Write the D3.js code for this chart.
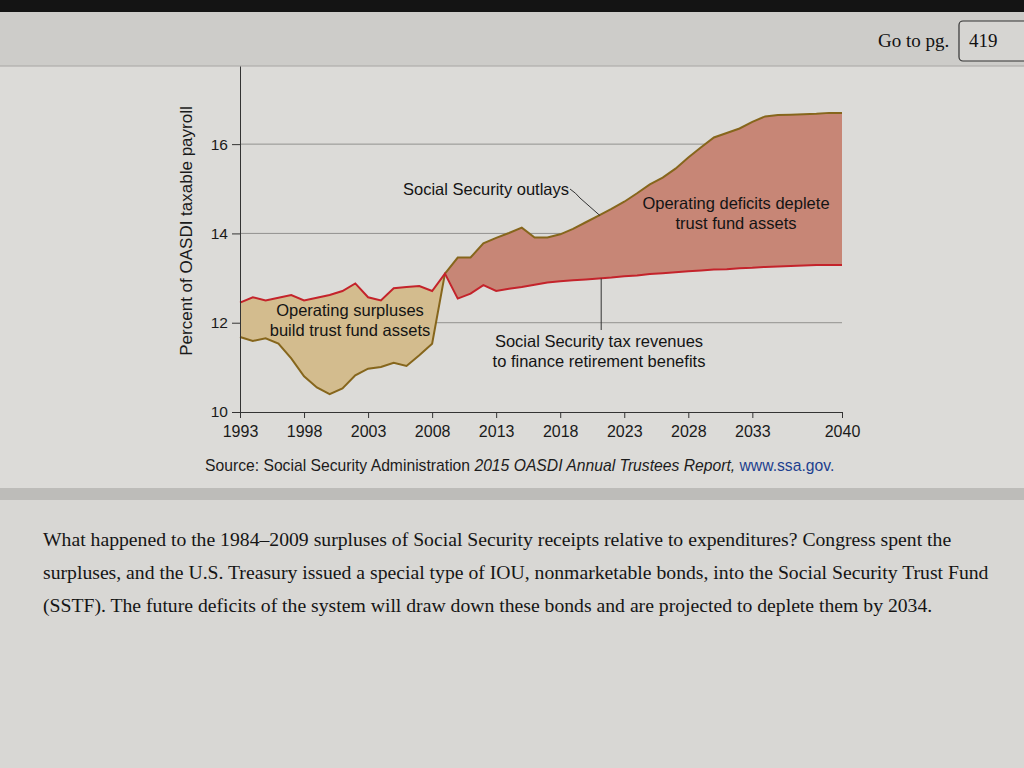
<!DOCTYPE html>
<html>
<head>
<meta charset="utf-8">
<script src="https://cdn.jsdelivr.net/npm/d3@7"></script>
<style>
  html, body { margin: 0; padding: 0; background: #d8d7d4; overflow: hidden; }
  svg { display: block; }
</style>
</head>
<body>
<script>
// years shown on the axis
const tickYears = [1993, 1998, 2003, 2008, 2013, 2018, 2023, 2028, 2033, 2040];
const yTicks = [10, 12, 14, 16];

const years = d3.range(1993, 2041);
// Social Security tax revenues, % of OASDI taxable payroll
const revenues = [
  12.45, 12.57, 12.50, 12.56, 12.62, 12.50, 12.56, 12.62, 12.71, 12.88,
  12.57, 12.50, 12.77, 12.80, 12.82, 12.71, 13.10, 12.54, 12.65, 12.84,
  12.71, 12.76, 12.80, 12.85, 12.90, 12.93, 12.95, 12.97, 12.99, 13.01,
  13.04, 13.06, 13.09, 13.11, 13.13, 13.15, 13.17, 13.19, 13.20, 13.22,
  13.23, 13.25, 13.26, 13.27, 13.28, 13.29, 13.29, 13.29
];
// Social Security outlays, % of OASDI taxable payroll
const outlays = [
  11.68, 11.59, 11.65, 11.53, 11.20, 10.80, 10.55, 10.40, 10.53, 10.82,
  10.97, 11.01, 11.10, 11.03, 11.27, 11.53, 13.10, 13.46, 13.46, 13.78,
  13.90, 14.01, 14.13, 13.91, 13.91, 13.98, 14.10, 14.25, 14.40, 14.55,
  14.71, 14.90, 15.10, 15.25, 15.45, 15.70, 15.93, 16.15, 16.25, 16.35,
  16.50, 16.62, 16.65, 16.66, 16.67, 16.68, 16.70, 16.70
];

const data = years.map((yr, i) => ({year: yr, rev: revenues[i], out: outlays[i]}));

const W = 1024, H = 768;
const svg = d3.select('body').append('svg').attr('width', W).attr('height', H);

// page background (screen photo look)
svg.append('rect').attr('x', 0).attr('y', 0).attr('width', W).attr('height', H).attr('fill', '#d8d7d4');
svg.append('rect').attr('x', 0).attr('y', 12).attr('width', W).attr('height', 54).attr('fill', '#cdccc9');
svg.append('line').attr('x1', 0).attr('x2', W).attr('y1', 66).attr('y2', 66).attr('stroke', '#a9a8a5');
svg.append('rect').attr('x', 0).attr('y', 67).attr('width', W).attr('height', 423).attr('fill', '#dcdbd8');
svg.append('rect').attr('x', 0).attr('y', 488).attr('width', W).attr('height', 12).attr('fill', '#bdbcb9');
svg.append('rect').attr('x', 0).attr('y', 0).attr('width', W).attr('height', 12).attr('fill', '#141414');

// "Go to pg." box
svg.append('text').text('Go to pg.').attr('x', 878).attr('y', 47)
  .attr('font-family', 'Liberation Serif, serif').attr('font-size', 19).attr('fill', '#111');
svg.append('rect').attr('x', 959).attr('y', 21).attr('width', 80).attr('height', 40).attr('rx', 4)
  .attr('fill', '#d6d5d2').attr('stroke', '#333').attr('stroke-width', 1.2);
svg.append('text').text('419').attr('x', 969).attr('y', 47)
  .attr('font-family', 'Liberation Serif, serif').attr('font-size', 19).attr('fill', '#111');

// scales
const x = d3.scaleLinear().domain([1993, 2040]).range([240, 842]);
const y = d3.scaleLinear().domain([10, 17.75]).range([412, 66]);

const font = 'Liberation Sans, Arial, sans-serif';

// gridlines
svg.append('g').selectAll('line').data(yTicks.filter(d => d > 10)).enter()
  .append('line')
  .attr('x1', x(1993)).attr('x2', x(2040))
  .attr('y1', d => y(d)).attr('y2', d => y(d))
  .attr('stroke', '#92918e').attr('stroke-width', 1);

// clip regions above / below the revenue line
const defs = svg.append('defs');
defs.append('clipPath').attr('id', 'belowRev').append('path')
  .attr('d', d3.area().x(d => x(d.year)).y0(y(10)).y1(d => y(d.rev))(data));
defs.append('clipPath').attr('id', 'aboveRev').append('path')
  .attr('d', d3.area().x(d => x(d.year)).y0(y(17.75)).y1(d => y(d.rev))(data));

const band = d3.area().x(d => x(d.year)).y0(d => y(d.out)).y1(d => y(d.rev));

svg.append('path').datum(data).attr('d', band)
  .attr('fill', '#d3bc8e').attr('clip-path', 'url(#belowRev)');
svg.append('path').datum(data).attr('d', band)
  .attr('fill', '#c78676').attr('clip-path', 'url(#aboveRev)');

const outLine = d3.line().x(d => x(d.year)).y(d => y(d.out));
const revLine = d3.line().x(d => x(d.year)).y(d => y(d.rev));

svg.append('path').datum(data).attr('d', outLine)
  .attr('fill', 'none').attr('stroke', '#86661c').attr('stroke-width', 2);
svg.append('path').datum(data).attr('d', revLine)
  .attr('fill', 'none').attr('stroke', '#c4232b').attr('stroke-width', 2);

// axes
const yAxis = d3.axisLeft(y).tickValues(yTicks).tickFormat(d3.format('d')).tickSize(8).tickSizeOuter(0).tickPadding(4);
const yAxisG = svg.append('g').attr('transform', `translate(${x(1993)},0)`).call(yAxis);
yAxisG.selectAll('text').attr('font-family', font).attr('font-size', 15.5).attr('fill', '#1a1a1a');
yAxisG.selectAll('line, path').attr('stroke', '#333');

const xAxis = d3.axisBottom(x).tickValues(tickYears).tickFormat(d3.format('d')).tickSize(6).tickSizeOuter(0).tickPadding(8);
const xAxisG = svg.append('g').attr('transform', `translate(0,${y(10)})`).call(xAxis);
xAxisG.selectAll('text').attr('font-family', font).attr('font-size', 16).attr('fill', '#1a1a1a');
xAxisG.selectAll('line, path').attr('stroke', '#333');

svg.append('text').text('Percent of OASDI taxable payroll')
  .attr('transform', `translate(192,231) rotate(-90)`).attr('text-anchor', 'middle')
  .attr('font-family', font).attr('font-size', 17).attr('fill', '#1a1a1a');

// annotations
function label(lines, cx, cy) {
  const t = svg.append('text').attr('text-anchor', 'middle')
    .attr('font-family', font).attr('font-size', 16.5).attr('fill', '#141414');
  lines.forEach((l, i) => t.append('tspan').attr('x', cx).attr('y', cy + i * 19.5).text(l));
}
label(['Social Security outlays'], 486, 195);
label(['Operating deficits deplete', 'trust fund assets'], 736, 209);
label(['Operating surpluses', 'build trust fund assets'], 350, 316);
label(['Social Security tax revenues', 'to finance retirement benefits'], 599, 347);

svg.append('path')
  .attr('d', `M570,189 Q576,193 580,198 L${x(2021.1)},${y(14.40)}`)
  .attr('fill', 'none').attr('stroke', '#333').attr('stroke-width', 1);
svg.append('line')
  .attr('x1', x(2021.2)).attr('x2', x(2021.2))
  .attr('y1', y(12.99)).attr('y2', 330)
  .attr('stroke', '#333').attr('stroke-width', 1);

// source line
const src = svg.append('text').attr('x', 205).attr('y', 471)
  .attr('font-family', 'Liberation Sans Narrow, Liberation Sans, Arial, sans-serif').attr('font-size', 15.7).attr('fill', '#1c1c1c');
src.append('tspan').text('Source: Social Security Administration ');
src.append('tspan').attr('font-style', 'italic').text('2015 OASDI Annual Trustees Report,');
src.append('tspan').attr('fill', '#1d3f8f').text(' www.ssa.gov.');

// paragraph below the figure
const para = [
  'What happened to the 1984\u20132009 surpluses of Social Security receipts relative to expenditures? Congress spent the',
  'surpluses, and the U.S. Treasury issued a special type of IOU, nonmarketable bonds, into the Social Security Trust Fund',
  '(SSTF). The future deficits of the system will draw down these bonds and are projected to deplete them by 2034.'
];
svg.append('g').selectAll('text').data(para).enter().append('text')
  .attr('x', 43).attr('y', (d, i) => 546 + i * 33)
  .attr('font-family', 'Liberation Serif, Times New Roman, serif').attr('font-size', 19.7).attr('fill', '#151515')
  .text(d => d);
</script>
</body>
</html>
